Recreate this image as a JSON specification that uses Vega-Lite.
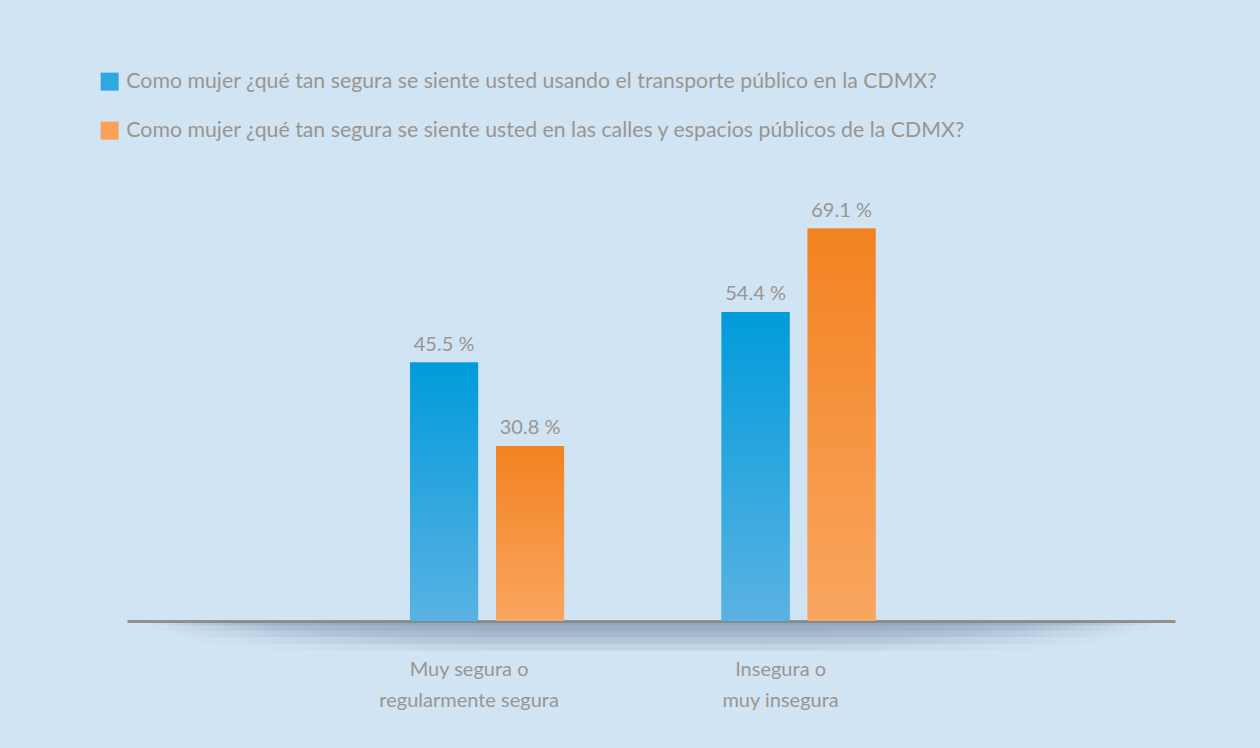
{
  "$schema": "https://vega.github.io/schema/vega-lite/v6.json",
  "width": 1048,
  "height": 426,
  "autosize": {"type": "none"},
  "padding": {"left": 127, "right": 85, "top": 195, "bottom": 127},
  "background": "#d0e4f4",
  "config": {
    "view": {"stroke": null},
    "font": "Lato",
    "text": {"font": "Lato"}
  },
  "data": {
    "values": [
      {"cat": "Muy segura o|regularmente segura", "serie": "Como mujer ¿qué tan segura se siente usted usando el transporte  público en la CDMX?", "s": "t", "v": 45.5, "label": "45.5 %"},
      {"cat": "Muy segura o|regularmente segura", "serie": "Como mujer ¿qué tan segura se siente usted en las calles y espacios públicos de la CDMX?", "s": "c", "v": 30.8, "label": "30.8 %"},
      {"cat": "Insegura o|muy insegura", "serie": "Como mujer ¿qué tan segura se siente usted usando el transporte  público en la CDMX?", "s": "t", "v": 54.4, "label": "54.4 %"},
      {"cat": "Insegura o|muy insegura", "serie": "Como mujer ¿qué tan segura se siente usted en las calles y espacios públicos de la CDMX?", "s": "c", "v": 69.1, "label": "69.1 %"}
    ]
  },
  "layer": [
    {
      "mark": {
        "type": "rect",
        "fill": {
          "gradient": "linear", "x1": 0, "y1": 0, "x2": 1, "y2": 0,
          "stops": [
            {"offset": 0, "color": "rgba(110,132,155,0)"},
            {"offset": 0.1, "color": "rgba(110,132,155,0)"},
            {"offset": 0.35, "color": "rgba(110,132,155,0.045)"},
            {"offset": 0.65, "color": "rgba(110,132,155,0.045)"},
            {"offset": 0.9, "color": "rgba(110,132,155,0)"},
            {"offset": 1, "color": "rgba(110,132,155,0)"}
          ]
        }
      },
      "encoding": {
        "x": {"value": 0},
        "x2": {"value": "width"},
        "y": {"datum": 0, "type": "quantitative", "scale": {"domain": [0, 75]}, "axis": null},
        "y2": {"datum": -5.2}
      }
    },
    {
      "mark": {
        "type": "rect",
        "fill": {
          "gradient": "linear", "x1": 0, "y1": 0, "x2": 1, "y2": 0,
          "stops": [
            {"offset": 0, "color": "rgba(110,132,155,0)"},
            {"offset": 0.05, "color": "rgba(110,132,155,0)"},
            {"offset": 0.28, "color": "rgba(110,132,155,0.05)"},
            {"offset": 0.72, "color": "rgba(110,132,155,0.05)"},
            {"offset": 0.95, "color": "rgba(110,132,155,0)"},
            {"offset": 1, "color": "rgba(110,132,155,0)"}
          ]
        }
      },
      "encoding": {
        "x": {"value": 0},
        "x2": {"value": "width"},
        "y": {"datum": 0, "type": "quantitative", "scale": {"domain": [0, 75]}, "axis": null},
        "y2": {"datum": -4}
      }
    },
    {
      "mark": {
        "type": "rect",
        "fill": {
          "gradient": "linear", "x1": 0, "y1": 0, "x2": 1, "y2": 0,
          "stops": [
            {"offset": 0, "color": "rgba(110,132,155,0)"},
            {"offset": 0.03, "color": "rgba(110,132,155,0)"},
            {"offset": 0.2, "color": "rgba(110,132,155,0.05)"},
            {"offset": 0.8, "color": "rgba(110,132,155,0.05)"},
            {"offset": 0.97, "color": "rgba(110,132,155,0)"},
            {"offset": 1, "color": "rgba(110,132,155,0)"}
          ]
        }
      },
      "encoding": {
        "x": {"value": 0},
        "x2": {"value": "width"},
        "y": {"datum": 0, "type": "quantitative", "scale": {"domain": [0, 75]}, "axis": null},
        "y2": {"datum": -2.8}
      }
    },
    {
      "mark": {
        "type": "rect",
        "fill": {
          "gradient": "linear", "x1": 0, "y1": 0, "x2": 1, "y2": 0,
          "stops": [
            {"offset": 0, "color": "rgba(110,132,155,0)"},
            {"offset": 0.02, "color": "rgba(110,132,155,0)"},
            {"offset": 0.14, "color": "rgba(110,132,155,0.05)"},
            {"offset": 0.86, "color": "rgba(110,132,155,0.05)"},
            {"offset": 0.98, "color": "rgba(110,132,155,0)"},
            {"offset": 1, "color": "rgba(110,132,155,0)"}
          ]
        }
      },
      "encoding": {
        "x": {"value": 0},
        "x2": {"value": "width"},
        "y": {"datum": 0, "type": "quantitative", "scale": {"domain": [0, 75]}, "axis": null},
        "y2": {"datum": -1.7}
      }
    },
    {
      "mark": {
        "type": "rect",
        "fill": {
          "gradient": "linear", "x1": 0, "y1": 0, "x2": 1, "y2": 0,
          "stops": [
            {"offset": 0.01, "color": "rgba(110,132,155,0)"},
            {"offset": 0.09, "color": "rgba(110,132,155,0.055)"},
            {"offset": 0.91, "color": "rgba(110,132,155,0.055)"},
            {"offset": 0.99, "color": "rgba(110,132,155,0)"}
          ]
        }
      },
      "encoding": {
        "x": {"value": 0},
        "x2": {"value": "width"},
        "y": {"datum": 0, "type": "quantitative", "scale": {"domain": [0, 75]}, "axis": null},
        "y2": {"datum": -0.8}
      }
    },
    {
      "encoding": {
        "x": {
          "field": "cat",
          "type": "nominal",
          "sort": null,
          "scale": {"paddingInner": 0.5056, "paddingOuter": 0.935, "align": 0.486},
          "axis": {
            "title": null,
            "labelAngle": 0,
            "labelExpr": "split(datum.value, '|')",
            "labelFontSize": 20,
            "labelLineHeight": 31,
            "labelColor": "#9b9590",
            "labelFont": "Lato",
            "labelPadding": 38,
            "labelOffset": -18,
            "ticks": false,
            "domainColor": "#96918a",
            "domainWidth": 3
          }
        },
        "xOffset": {
          "field": "serie",
          "type": "nominal",
          "sort": null,
          "scale": {"paddingInner": 0.2093, "paddingOuter": 0}
        },
        "y": {
          "field": "v",
          "type": "quantitative",
          "scale": {"domain": [0, 75]},
          "axis": null
        }
      },
      "layer": [
        {
          "mark": {"type": "bar"},
          "encoding": {
            "color": {
              "field": "serie",
              "type": "nominal",
              "scale": {
                "domain": [
                  "Como mujer ¿qué tan segura se siente usted usando el transporte  público en la CDMX?",
                  "Como mujer ¿qué tan segura se siente usted en las calles y espacios públicos de la CDMX?"
                ],
                "range": ["#2ea8e0", "#f8a25a"]
              },
              "legend": {
                "orient": "none",
                "legendX": -28,
                "legendY": -124,
                "title": null,
                "padding": 0,
                "symbolType": "square",
                "symbolSize": 324,
                "symbolStrokeWidth": 0,
                "symbolOpacity": 1,
                "labelFontSize": 21.3,
                "labelFont": "Lato",
                "labelColor": "#9b9590",
                "labelLimit": 0,
                "labelOffset": 6,
                "rowPadding": 27
              }
            }
          }
        },
        {
          "mark": {"type": "bar"},
          "encoding": {
            "color": {
              "condition": {
                "test": "datum.s == 't'",
                "value": {
                  "gradient": "linear",
                  "x1": 0, "y1": 0, "x2": 0, "y2": 1,
                  "stops": [
                    {"offset": 0, "color": "#009bdb"},
                    {"offset": 1, "color": "#5ab2e2"}
                  ]
                }
              },
              "value": {
                "gradient": "linear",
                "x1": 0, "y1": 0, "x2": 0, "y2": 1,
                "stops": [
                  {"offset": 0, "color": "#f28220"},
                  {"offset": 1, "color": "#f9a660"}
                ]
              }
            }
          }
        },
        {
          "mark": {"type": "text", "dy": -8, "fontSize": 20, "font": "Lato", "color": "#9b9590", "baseline": "bottom"},
          "encoding": {"text": {"field": "label"}}
        }
      ]
    }
  ]
}
